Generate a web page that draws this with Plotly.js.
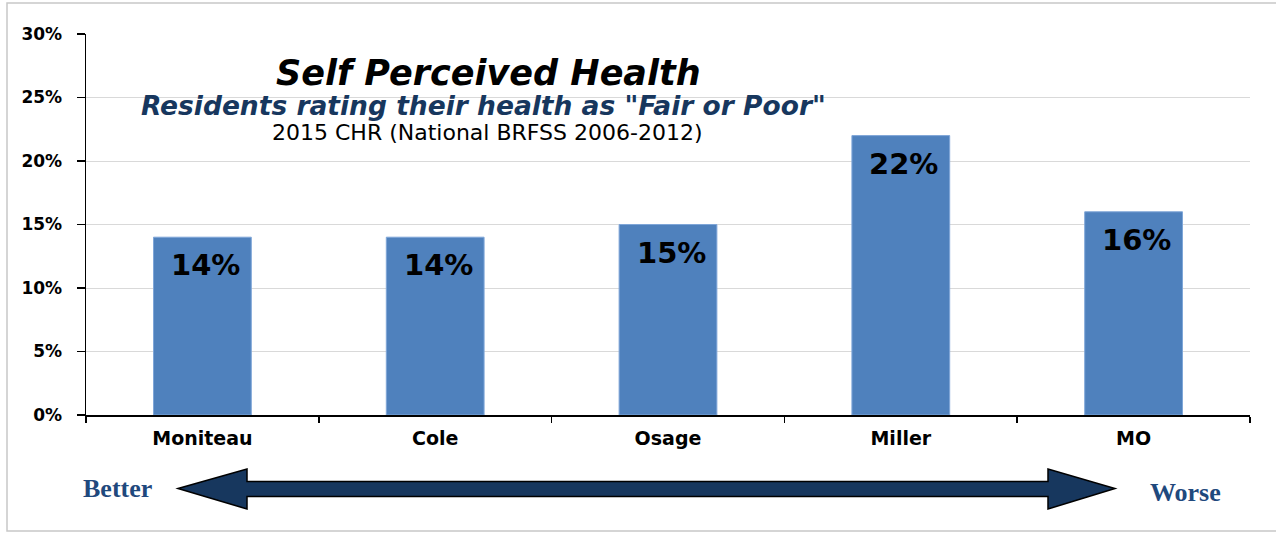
<!DOCTYPE html>
<html><head><meta charset="utf-8">
<script src="https://cdn.plot.ly/plotly-3.0.1.min.js"></script>
<style>html,body{margin:0;padding:0;background:#fff}#chart{width:1276px;height:533px}</style>
</head><body><div id="chart"></div>
<script>
const categories = ["Moniteau", "Cole", "Osage", "Miller", "MO"];
const values = [14, 14, 15, 22, 16];
const yTicks = [0, 5, 10, 15, 20, 25, 30];
const yTickLabels = ["0%", "5%", "10%", "15%", "20%", "25%", "30%"];

const W = 1276, H = 533;
const M = {l: 86, r: 26, t: 34, b: 118};
const pw = W - M.l - M.r, ph = H - M.t - M.b;
const px = x => (x - M.l) / pw;
const py = y => (H - M.b - y) / ph;
const SANS = 'DejaVu Sans, Arial, sans-serif';
const SERIF = 'Liberation Serif, Times New Roman, serif';

function arrowPath() {
  const pts = [[178,488.5],[247,469],[247,481.5],[1048,481.5],[1048,469],[1115,488.5],[1048,509],[1048,496.5],[247,496.5],[247,509]];
  return 'M' + pts.map(p => px(p[0]).toFixed(5) + ',' + py(p[1]).toFixed(5)).join(' L') + ' Z';
}

const trace = {
  type: 'bar', x: categories, y: values,
  marker: {color: '#4f81bd', line: {color: '#7fa6d8', width: 1}},
  width: 0.42,
  hoverinfo: 'x+y'
};

const barLabels = categories.map((c, i) => ({
  xref: 'x', yref: 'y', x: c, y: values[i], text: values[i] + '%',
  showarrow: false, xanchor: 'center', yanchor: 'top', yshift: -9, xshift: 3,
  font: {family: SANS, size: 29, color: '#000', weight: 'bold'}
}));

const layout = {
  width: W, height: H,
  margin: M,
  paper_bgcolor: '#fff', plot_bgcolor: '#fff',
  showlegend: false,
  font: {family: SANS, color: '#000'},
  xaxis: {
    type: 'category', range: [-0.5, 4.5], showgrid: false,
    showline: true, linecolor: '#000', linewidth: 1.5,
    ticks: 'outside', ticklen: 6, tickcolor: '#000', tickwidth: 1.5,
    tickson: 'boundaries', ticklabelstandoff: 6,
    tickfont: {family: SANS, size: 19, weight: 'bold', color: '#000'},
    fixedrange: true
  },
  yaxis: {
    range: [0, 30], tickvals: yTicks, ticktext: yTickLabels,
    showgrid: true, gridcolor: '#d9d9d9', gridwidth: 1,
    showline: true, linecolor: '#000', linewidth: 1.5,
    ticks: 'outside', ticklen: 8, tickcolor: '#000', tickwidth: 1.5,
    ticklabelstandoff: 11,
    tickfont: {family: SANS, size: 17, weight: 'bold', color: '#000'},
    zeroline: false, fixedrange: true
  },
  annotations: [
    {xref: 'paper', yref: 'paper', x: px(488), y: py(73), text: 'Self Perceived Health', showarrow: false,
     font: {family: SANS, size: 35, color: '#000', weight: 'bold', style: 'italic'}, xanchor: 'center', yanchor: 'middle'},
    {xref: 'paper', yref: 'paper', x: px(483), y: py(105), text: 'Residents rating their health as "Fair or Poor"', showarrow: false,
     font: {family: SANS, size: 26.5, color: '#17375e', weight: 'bold', style: 'italic'}, xanchor: 'center', yanchor: 'middle'},
    {xref: 'paper', yref: 'paper', x: px(487), y: py(132), text: '2015 CHR (National BRFSS 2006-2012)', showarrow: false,
     font: {family: SANS, size: 22, color: '#000'}, xanchor: 'center', yanchor: 'middle'},
    {xref: 'paper', yref: 'paper', x: px(117), y: py(488), text: 'Better', showarrow: false,
     font: {family: SERIF, size: 26, color: '#1f497d', weight: 'bold'}, xanchor: 'center', yanchor: 'middle'},
    {xref: 'paper', yref: 'paper', x: px(1185), y: py(492), text: 'Worse', showarrow: false,
     font: {family: SERIF, size: 26, color: '#1f497d', weight: 'bold'}, xanchor: 'center', yanchor: 'middle'}
  ].concat(barLabels),
  shapes: [
    {type: 'rect', xref: 'paper', yref: 'paper', x0: px(7), x1: px(1290), y0: py(531), y1: py(3),
     line: {color: '#c8c8c8', width: 1.5}, fillcolor: 'rgba(0,0,0,0)', layer: 'below'},
    {type: 'path', xref: 'paper', yref: 'paper', path: arrowPath(),
     fillcolor: '#17375e', line: {color: '#000', width: 1.5}}
  ]
};

Plotly.newPlot('chart', [trace], layout, {displayModeBar: false, staticPlot: true});
</script></body></html>
